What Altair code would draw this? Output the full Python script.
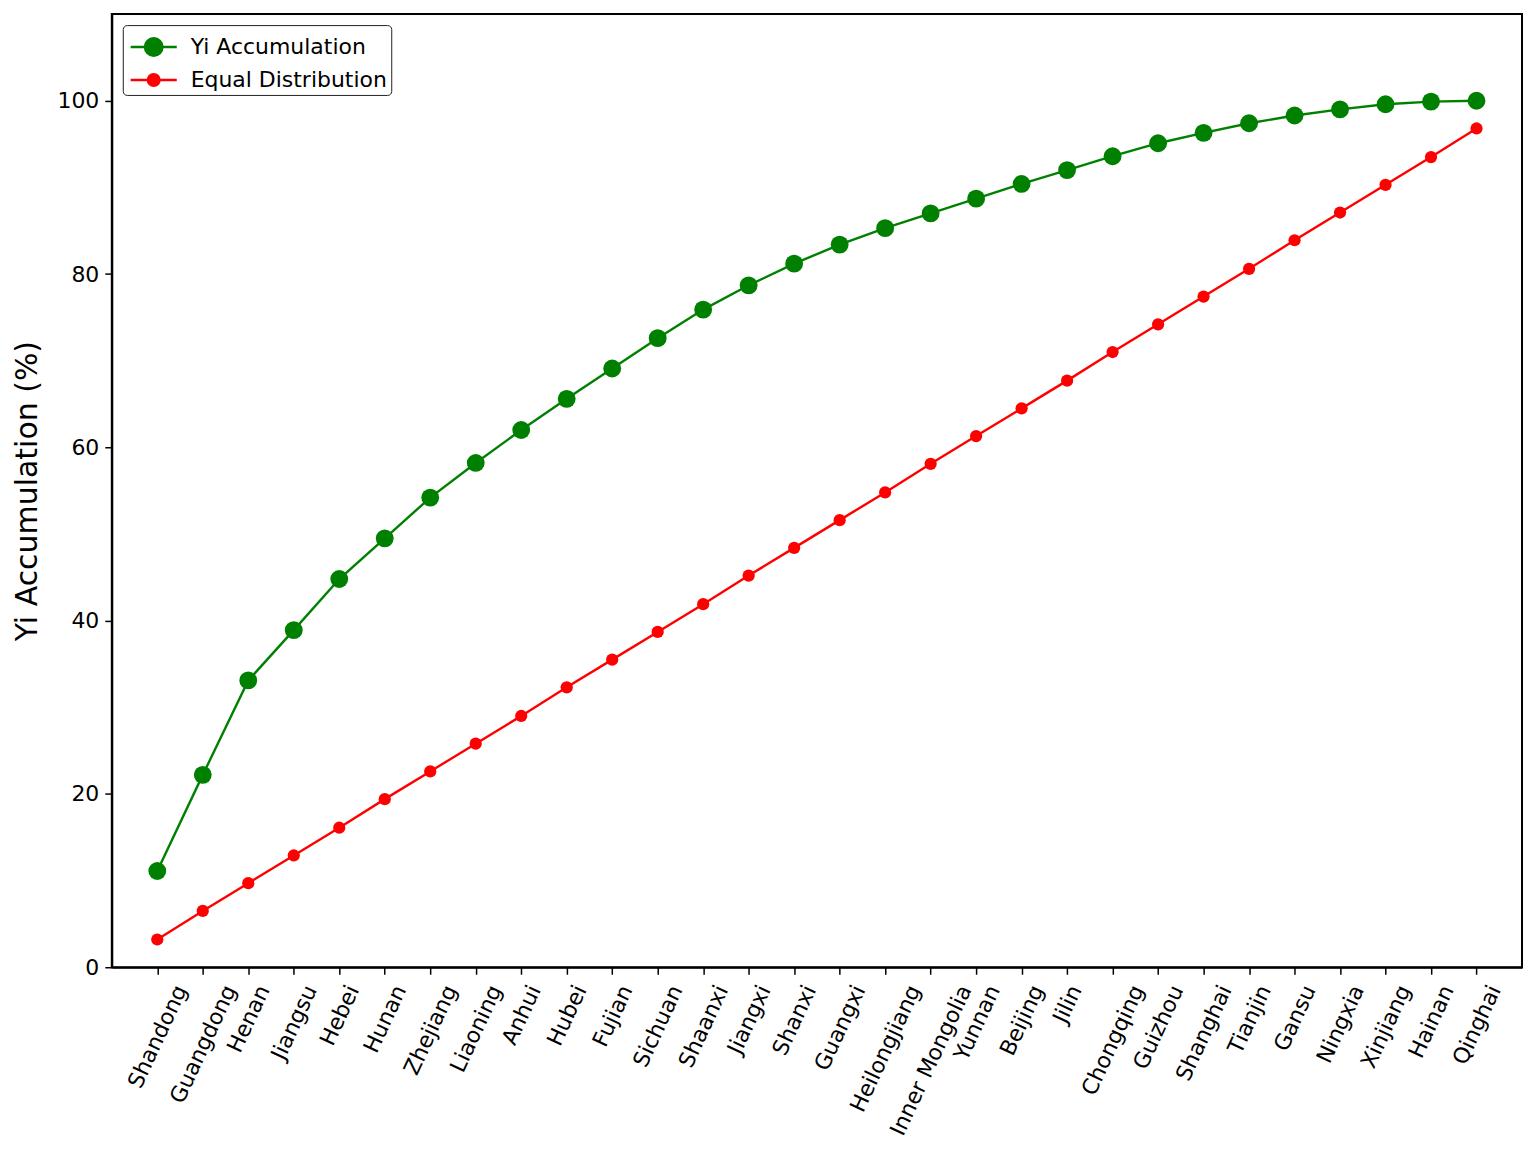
import altair as alt
import pandas as pd

provinces = ["Shandong", "Guangdong", "Henan", "Jiangsu", "Hebei", "Hunan", "Zhejiang",
             "Liaoning", "Anhui", "Hubei", "Fujian", "Sichuan", "Shaanxi", "Jiangxi",
             "Shanxi", "Guangxi", "Heilongjiang", "Inner Mongolia", "Yunnan", "Beijing",
             "Jilin", "Chongqing", "Guizhou", "Shanghai", "Tianjin", "Gansu", "Ningxia",
             "Xinjiang", "Hainan", "Qinghai"]
yi_accum = [11.1, 22.2, 33.1, 38.9, 44.8, 49.5, 54.2, 58.2, 62.0, 65.6, 69.1, 72.6,
            75.9, 78.7, 81.2, 83.4, 85.3, 87.0, 88.7, 90.4, 92.0, 93.6, 95.1, 96.3,
            97.4, 98.3, 99.0, 99.6, 99.9, 100.0]
equal_dist = [3.2, 6.5, 9.7, 12.9, 16.1, 19.4, 22.6, 25.8, 29.0, 32.3, 35.5, 38.7,
              41.9, 45.2, 48.4, 51.6, 54.8, 58.1, 61.3, 64.5, 67.7, 71.0, 74.2, 77.4,
              80.6, 83.9, 87.1, 90.3, 93.5, 96.8]
series_names = ["Yi Accumulation", "Equal Distribution"]
series_colors = ["#008000", "#ff0000"]

rows = []
for p, a, e in zip(provinces, yi_accum, equal_dist):
    rows.append({"Province": p, "Value": a, "Series": series_names[0]})
    rows.append({"Province": p, "Value": e, "Series": series_names[1]})
df = pd.DataFrame(rows)

FONT = "DejaVu Sans"
LABEL_FS = 22

# approximate DejaVu Sans glyph advance widths (em) for label centring like matplotlib
_W = {"A": .684, "B": .686, "C": .698, "D": .770, "E": .632, "F": .575, "G": .775,
      "H": .752, "I": .295, "J": .295, "K": .656, "L": .557, "M": .863, "N": .748,
      "O": .787, "P": .603, "Q": .787, "R": .695, "S": .635, "T": .611, "U": .732,
      "V": .684, "W": .989, "X": .685, "Y": .611, "Z": .685, "a": .613, "b": .635,
      "c": .550, "d": .635, "e": .615, "f": .352, "g": .635, "h": .634, "i": .278,
      "j": .278, "k": .579, "l": .278, "m": .974, "n": .634, "o": .612, "p": .635,
      "q": .635, "r": .411, "s": .521, "t": .392, "u": .634, "v": .592, "w": .818,
      "x": .592, "y": .592, "z": .525, " ": .318}
offsets = {p: round(0.2113 * LABEL_FS * sum(_W.get(c, .6) for c in p), 1) for p in provinces}
offset_expr = "{" + ", ".join("'%s': %s" % (k, v) for k, v in offsets.items()) + "}[datum.label]"

BIG = "M-1.4,0L1.4,0M-0.53,0A0.53,0.53 0 1,0 0.53,0A0.53,0.53 0 1,0 -0.53,0"
SMALL = "M-1.4,0L1.4,0M-0.35,0A0.35,0.35 0 1,0 0.35,0A0.35,0.35 0 1,0 -0.35,0"

x = alt.X("Province:N", sort=provinces,
          scale=alt.Scale(type="point", padding=1),
          axis=alt.Axis(title=None, labelAngle=-65, labelFontSize=LABEL_FS, labelFont=FONT,
                        labelColor="black", tickColor="black", domainColor="black",
                        tickSize=7, tickWidth=1.5, domainWidth=2, labelPadding=12,
                        labelAlign="right", labelBaseline="middle",
                        labelOffset={"expr": offset_expr},
                        labelOverlap=False, labelLimit=400))
y = alt.Y("Value:Q", scale=alt.Scale(domain=[0, 110], nice=False),
          axis=alt.Axis(title="Yi Accumulation (%)", titleFontSize=30, titleFont=FONT,
                        titleFontWeight="normal", titleColor="black", titlePadding=14,
                        values=[0, 20, 40, 60, 80, 100], labelFontSize=LABEL_FS, labelFont=FONT,
                        labelColor="black", tickColor="black", domainColor="black",
                        tickSize=7, tickWidth=1.5, domainWidth=2, grid=False,
                        labelPadding=6))
legend = alt.Legend(title=None, orient="top-left", offset=11,
                    labelFontSize=22, labelFont=FONT, labelColor="black",
                    labelLimit=400, symbolStrokeWidth=2.5, symbolSize=1089,
                    symbolOpacity=1, symbolOffset=9, fillColor="white",
                    strokeColor="#222222", cornerRadius=4, padding=4, rowPadding=1,
                    labelOffset=19)
color = alt.Color("Series:N", scale=alt.Scale(domain=series_names, range=series_colors),
                  legend=legend)
shape = alt.Shape("Series:N", scale=alt.Scale(domain=series_names, range=[BIG, SMALL]),
                  legend=legend)

base = alt.Chart(df)
frame = alt.Chart(pd.DataFrame({"f": [0]})).mark_rect(
    filled=False, stroke="black", strokeWidth=2).encode(
    x=alt.value(0), x2=alt.value("width"), y=alt.value(0), y2=alt.value("height"))
lines = base.mark_line(strokeWidth=2.4).encode(x=x, y=y, color=color, detail="Series:N")
pts_big = base.transform_filter(alt.datum.Series == series_names[0]).mark_point(
    filled=True, opacity=1, size=320, shape="circle").encode(x=x, y=y, color=color)
pts_small = base.transform_filter(alt.datum.Series == series_names[1]).mark_point(
    filled=True, opacity=1, size=150, shape="circle").encode(x=x, y=y, color=color)
legend_layer = base.mark_point(opacity=0, size=1089, strokeWidth=2.5).encode(
    x=x, y=y, color=color, shape=shape)

chart = (lines + pts_big + pts_small + legend_layer + frame).properties(
    width=1413, height=955,
    padding={"left": 5, "top": 4, "right": 5, "bottom": 5},
).configure_view(stroke="black", strokeWidth=2, strokeOpacity=1).configure(background="white")

chart.save("out.html", embed_options={"renderer": "svg", "actions": False})
